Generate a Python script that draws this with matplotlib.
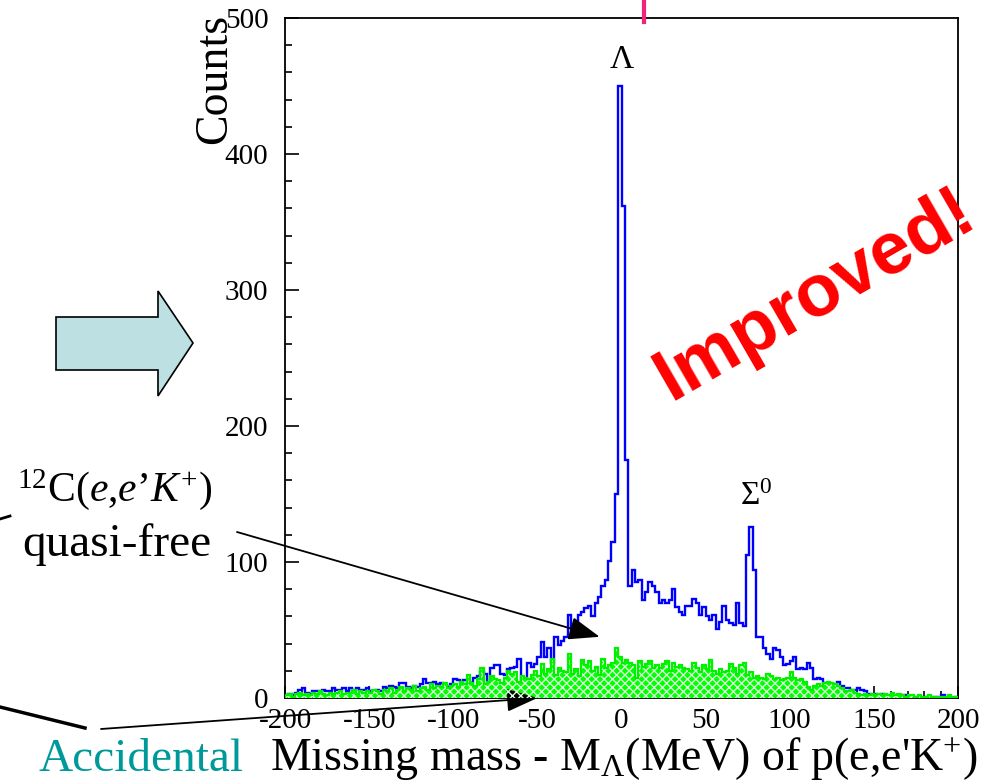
import numpy as np
import matplotlib
matplotlib.use("Agg")
import matplotlib.pyplot as plt
from matplotlib.patches import Polygon
from matplotlib.lines import Line2D

plt.rcParams['font.family'] = 'Liberation Serif'
plt.rcParams['mathtext.fontset'] = 'custom'
plt.rcParams['mathtext.rm'] = 'Liberation Serif'
plt.rcParams['mathtext.it'] = 'Liberation Serif:italic'
plt.rcParams['mathtext.bf'] = 'Liberation Serif:bold'
plt.rcParams['hatch.linewidth'] = 1.0

# histogram binning: 2 MeV bins from -200 to 200
bin_edges = np.arange(-200, 201, 2)

# p(e,e'K+) missing mass spectrum (blue), counts per bin
blue_left = [2, 3, 2, 4, 6, 7, 4, 3, 5, 5,
             4, 6, 5, 5, 7, 6, 6, 7, 5, 7,
             6, 7, 6, 6, 7, 5, 4, 6, 5, 8,
             7, 9, 8, 7, 11, 11, 8, 7, 9, 8,
             10, 14, 11, 11, 12, 10, 11, 9, 8, 10,
             14, 13]                                    # -200 .. -98
blue_mid = [12, 13, 12, 11, 15, 16, 19, 18, 10, 22,
            24, 24, 18, 17, 21, 22, 23, 29, 13, 14,
            26, 23, 25, 30, 41, 30, 37, 26, 45, 39,
            42, 45, 61, 48, 52, 61, 63, 66, 68, 60,
            70, 74, 82, 87, 101, 115]                   # -96 .. -6
blue_peak = [150, 450, 362, 175, 82]                    # -4 .. 4
blue_right = [94, 85, 87, 72, 78, 85, 82, 78, 70, 72,
              70, 72, 80, 67, 63, 61, 68, 68, 73, 70,
              61, 67, 60, 57, 61, 51, 56, 68, 57, 55,
              54, 70, 55, 53, 105, 126, 94, 45, 45, 37,
              32, 29, 37, 35, 30, 24, 25, 27, 30, 21,
              22, 21, 26, 22, 14, 15, 14, 11, 11, 9,
              10, 12, 9, 7, 7, 6, 6, 7, 6, 5,
              3, 2, 3, 2, 3, 2, 1, 2, 1, 2,
              1, 2, 1, 0, 1, 1, 0, 1, 1, 0,
              1, 0, 2, 0, 1, 0, 1]                      # 6 .. 198
blue_counts = blue_left + blue_mid + blue_peak + blue_right

# accidental background (green)
green_counts = [2, 3, 1, 3, 4, 2, 3, 2, 4, 3, 5, 3, 2, 4, 3, 4, 5, 3, 4, 4, 6, 3, 5, 4, 5,
                4, 6, 5, 3, 6, 5, 7, 4, 6, 8, 5, 7, 6, 9, 5, 7, 8, 6, 10, 7, 9, 8, 11, 7, 9,
                10, 8, 12, 10, 17, 11, 9, 14, 22, 10, 12, 16, 14, 13, 11, 15, 20, 18, 19, 12, 16, 15, 14, 17, 20,
                16, 25, 18, 21, 29, 17, 22, 20, 19, 32, 18, 21, 16, 28, 24, 27, 20, 23, 17, 29, 22, 24, 26, 37, 30,
                26, 28, 26, 24, 15, 27, 23, 25, 27, 22, 24, 22, 25, 27, 20, 26, 23, 24, 22, 21, 20, 26, 22, 19, 24,
                21, 28, 20, 18, 21, 19, 20, 25, 22, 18, 24, 26, 17, 19, 15, 16, 15, 14, 18, 16, 14, 15, 13, 14, 15,
                19, 15, 13, 14, 12, 8, 6, 9, 10, 9, 11, 12, 11, 10, 9, 7, 5, 5, 6, 4, 3, 2, 3, 2, 3,
                2, 3, 2, 3, 2, 4, 2, 3, 2, 1, 2, 2, 1, 2, 1, 1, 2, 1, 1, 0, 1, 1, 2, 1, 1]

assert len(blue_counts) == len(bin_edges) - 1
assert len(green_counts) == len(bin_edges) - 1

x_ticks = [-200, -150, -100, -50, 0, 50, 100, 150, 200]
y_ticks = [0, 100, 200, 300, 400, 500]

W, H = 995, 782


def fx(px):
    return px / W


def fy(py):
    return 1 - py / H


fig = plt.figure(figsize=(W / 100, H / 100), dpi=100)
ax = fig.add_axes([fx(285), fy(698), (958 - 285) / W, (698 - 18) / H])

ax.stairs(blue_counts, bin_edges, color='#0000ff', lw=1.7, baseline=None, zorder=2)
ax.stairs(green_counts, bin_edges, fill=True, facecolor='#00ff00', edgecolor='none', zorder=3)
ax.stairs(green_counts, bin_edges, fill=True, facecolor='none', edgecolor='#d8ffd8',
          hatch='xxxx', linewidth=0, zorder=4)
ax.stairs(green_counts, bin_edges, color='#00f000', lw=1.6, zorder=5)

ax.set_xlim(-200, 200)
ax.set_ylim(0, 500)
ax.set_xticks(x_ticks)
ax.set_xticks(np.arange(-200, 201, 10), minor=True)
ax.set_yticks(y_ticks)
ax.set_yticks(np.arange(0, 501, 20), minor=True)
ax.set_xticklabels([str(v) for v in x_ticks], fontsize=21)
ax.set_yticklabels([str(v) for v in y_ticks], fontsize=21)
ax.tick_params(axis='both', which='both', direction='in', top=False, right=False, width=1.2)
ax.tick_params(axis='y', which='major', length=10, pad=12)
ax.tick_params(axis='y', which='minor', length=5)
ax.tick_params(axis='x', which='major', length=9, pad=7)
ax.tick_params(axis='x', which='minor', length=5)
for s in ax.spines.values():
    s.set_linewidth(1.3)

# axis titles, ROOT style
fig.text(fx(215), fy(14), 'Counts', rotation=90, ha='center', va='top', fontsize=33)
fig.text(fx(977), fy(770), r"Missing mass - M$_{\Lambda}$(MeV) of p(e,e'K$^{+}$)",
         ha='right', va='baseline', fontsize=33)

# peak labels
ax.text(0, 458, 'Λ', ha='center', va='bottom', fontsize=24)
ax.text(80, 137, r'$\Sigma^{0}$', ha='center', va='bottom', fontsize=24)

# annotations outside the frame
fig.text(fx(115), fy(490), r"$^{12}$C($e$,$e$’$K^{+}$)", ha='center', va='center', fontsize=30)
fig.text(fx(117), fy(545), 'quasi-free', ha='center', va='center', fontsize=34)
fig.text(fx(141), fy(760), 'Accidental', ha='center', va='center', fontsize=34, color='#009999')

ax.annotate('', xy=(-13, 45), xycoords='data', xytext=(fx(237), fy(532)),
            textcoords='figure fraction', annotation_clip=False,
            arrowprops=dict(arrowstyle='-|>,head_length=1.6,head_width=0.6', color='black',
                            lw=1.3, mutation_scale=12, shrinkA=0, shrinkB=0))
ax.annotate('', xy=(-50, 0), xycoords='data', xytext=(fx(101), fy(729)),
            textcoords='figure fraction', annotation_clip=False,
            arrowprops=dict(arrowstyle='-|>,head_length=1.6,head_width=0.6', color='black',
                            lw=1.3, mutation_scale=12, shrinkA=0, shrinkB=0))
fig.add_artist(Line2D([fx(0), fx(85)], [fy(707), fy(728)], color='black', lw=2.5))
fig.add_artist(Line2D([fx(0), fx(10)], [fy(519), fy(516)], color='black', lw=2))

# big block arrow
arrow_pts = [(56, 317), (158, 317), (158, 291), (193, 343), (158, 396), (158, 370), (56, 370)]
fig.add_artist(Polygon([(fx(a), fy(b)) for a, b in arrow_pts], closed=True,
                       facecolor='#bde0e3', edgecolor='black', lw=1.2))

# pink title remnant at the top edge
fig.add_artist(Line2D([fx(644), fx(644)], [fy(0), fy(22)], color='#f0247a', lw=3))

fig.text(fx(815), fy(295), 'Improved!', rotation=30, rotation_mode='anchor',
         ha='center', va='center', fontsize=53, color='#ff0000',
         family='Liberation Sans', weight='bold')

fig.savefig('out.png', dpi=100)
